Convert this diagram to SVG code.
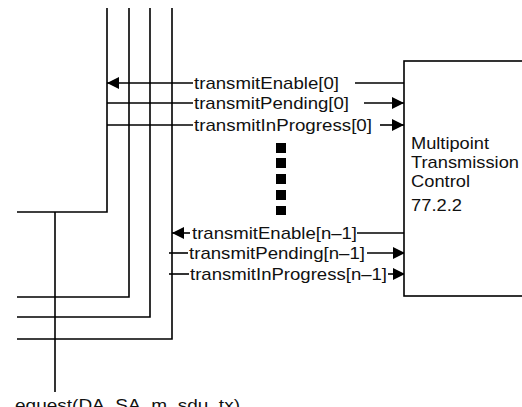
<svg xmlns="http://www.w3.org/2000/svg" width="522" height="407" viewBox="0 0 522 407">
<defs>
<marker id="ah" viewBox="0 0 12 12" markerWidth="12" markerHeight="12" refX="12" refY="6" orient="auto" markerUnits="userSpaceOnUse"><path d="M0,0 L12,6 L0,12 z" fill="#000"/></marker>
<style>
.ln{stroke:#000;stroke-width:1.6;fill:none}
.ar{stroke:#000;stroke-width:1.6;fill:none;marker-end:url(#ah)}
.t{font-family:"Liberation Sans",Arial,sans-serif;font-size:17px;fill:#111}
.box{fill:#fff;stroke:#000;stroke-width:1.6}
</style>
</defs>
<rect width="522" height="407" fill="#fff"/>
<g id="connectors">
<path class="ln" d="M107,8 V212 H17"/>
<path class="ln" d="M129,8 V297 H17"/>
<path class="ln" d="M150,8 V317 H17"/>
<path class="ln" d="M172,8 V339 H17"/>
<path class="ln" d="M55,212 V392"/>
<path class="ar" d="M193,83 H107"/>
<path class="ln" d="M107,103 H193"/>
<path class="ln" d="M107,125 H193"/>
<path class="ln" d="M355,83 H404"/>
<path class="ar" d="M364,103 H404"/>
<path class="ar" d="M380,125 H404"/>
<path class="ar" d="M190,233 H172"/>
<path class="ln" d="M169,253 H188"/>
<path class="ln" d="M169,274 H189"/>
<path class="ln" d="M357,233 H405"/>
<path class="ar" d="M367,253 H405"/>
<path class="ar" d="M388,274 H405"/>
</g>
<g id="labels">
<text class="t" x="194" y="89" textLength="145" lengthAdjust="spacingAndGlyphs">transmitEnable[0]</text>
<text class="t" x="194" y="109" textLength="155" lengthAdjust="spacingAndGlyphs">transmitPending[0]</text>
<text class="t" x="194" y="131" textLength="178" lengthAdjust="spacingAndGlyphs">transmitInProgress[0]</text>
<text class="t" x="192" y="239" textLength="165" lengthAdjust="spacingAndGlyphs">transmitEnable[n–1]</text>
<text class="t" x="189" y="259" textLength="176" lengthAdjust="spacingAndGlyphs">transmitPending[n–1]</text>
<text class="t" x="190" y="280" textLength="197" lengthAdjust="spacingAndGlyphs">transmitInProgress[n–1]</text>
<text class="t" x="15" y="411" textLength="225" lengthAdjust="spacingAndGlyphs">equest(DA, SA, m_sdu_tx)</text>
</g>
<g id="ellipsis" fill="#000">
<rect x="276" y="143" width="10" height="10"/>
<rect x="276" y="158" width="10" height="10"/>
<rect x="276" y="174" width="10" height="10"/>
<rect x="276" y="190" width="10" height="10"/>
<rect x="276" y="206" width="10" height="9"/>
</g>
<g id="mtc">
<rect class="box" x="404" y="61" width="130" height="235"/>
<text class="t" x="411" y="149" textLength="78" lengthAdjust="spacingAndGlyphs">Multipoint</text>
<text class="t" x="411" y="168" textLength="108" lengthAdjust="spacingAndGlyphs">Transmission</text>
<text class="t" x="411" y="187" textLength="59" lengthAdjust="spacingAndGlyphs">Control</text>
<text class="t" x="411" y="211" textLength="51" lengthAdjust="spacingAndGlyphs">77.2.2</text>
</g>
</svg>
